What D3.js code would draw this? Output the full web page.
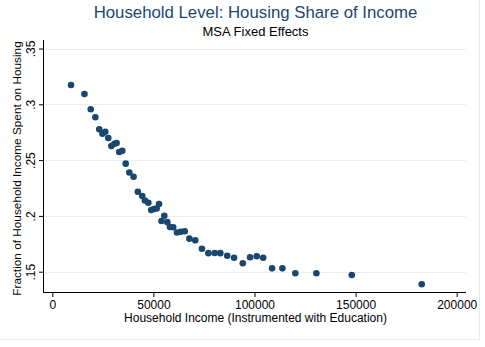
<!DOCTYPE html>
<html>
<head>
<meta charset="utf-8">
<script src="https://cdn.jsdelivr.net/npm/d3@7"></script>
<style>
  html, body { margin: 0; padding: 0; background: #fff; }
  svg { display: block; font-family: "Liberation Sans", Arial, sans-serif; }
</style>
</head>
<body>
<svg id="chart" width="485" height="347"></svg>
<script>
const titleText = "Household Level: Housing Share of Income";
const subtitleText = "MSA Fixed Effects";
const xTitle = "Household Income (Instrumented with Education)";
const yTitle = "Fraction of Household Income Spent on Housing";

const xTicks = [0, 50000, 100000, 150000, 200000];
const yTicks = [0.15, 0.2, 0.25, 0.3, 0.35];
const yTickLabels = [".15", ".2", ".25", ".3", ".35"];

const income = [
  9250, 15900, 19000, 21300, 23200, 24800, 26200, 27700, 29200, 30700,
  31800, 33100, 34600, 36300, 38100, 40200, 42300, 44500, 45800, 47500,
  48900, 50300, 51600, 52800, 54000, 55400, 56900, 58200, 59800, 61700,
  63500, 65500, 67800, 70700, 74000, 77200, 80300, 83100, 86500, 89900,
  94200, 97800, 101100, 104300, 108700, 113800, 120200, 130600, 148100, 182700
];
const housingShare = [
  0.3173, 0.3092, 0.2955, 0.2884, 0.2776, 0.2737, 0.2754, 0.2698, 0.2626, 0.2647,
  0.2653, 0.2573, 0.2584, 0.2468, 0.2389, 0.2351, 0.2216, 0.2178, 0.2138, 0.2118,
  0.2053, 0.2062, 0.2066, 0.2107, 0.1954, 0.2002, 0.1944, 0.1901, 0.1898, 0.1851,
  0.1857, 0.1863, 0.1796, 0.1781, 0.1706, 0.1666, 0.1668, 0.1666, 0.1643, 0.1625,
  0.1576, 0.1630, 0.1639, 0.1625, 0.1530, 0.1530, 0.1486, 0.1486, 0.1470, 0.1387
];

const svg = d3.select("#chart");
const navy = "#1a476f";

// outer frame
svg.append("rect").attr("x", -1).attr("y", -1).attr("width", 480.5).attr("height", 340.5)
  .attr("fill", "none").attr("stroke", "#e6ebed").attr("stroke-width", 1);

const plotLeft = 44, plotRight = 466, plotTop = 40, plotBottom = 292;

const x = d3.scaleLinear().domain([0, 200000]).range([52.3, 456.7]);
const y = d3.scaleLinear().domain([0.15, 0.35]).range([271.7, 48.5]);

// gridlines
svg.append("g").selectAll("line").data(yTicks).join("line")
  .attr("x1", plotLeft).attr("x2", plotRight)
  .attr("y1", d => Math.round(y(d)) + 0.5).attr("y2", d => Math.round(y(d)) + 0.5)
  .attr("stroke", "#e8eff1").attr("stroke-width", 1);

// axes
const xAxis = d3.axisBottom(x).tickValues(xTicks).tickSize(5).tickPadding(3)
  .tickFormat(d3.format("d"));
const gx = svg.append("g").attr("transform", `translate(0,${plotBottom})`).call(xAxis);
gx.select(".domain").remove();
gx.selectAll("line").attr("stroke", "#000");
gx.selectAll("text").attr("font-size", "12px").attr("fill", "#000")
  .attr("font-family", "Liberation Sans, Arial, sans-serif");
svg.append("line").attr("x1", plotLeft).attr("x2", plotRight)
  .attr("y1", plotBottom + 0.5).attr("y2", plotBottom + 0.5).attr("stroke", "#000");

const yAxis = d3.axisLeft(y).tickValues(yTicks).tickSize(5).tickFormat((d, i) => yTickLabels[i]);
const gy = svg.append("g").attr("transform", `translate(${plotLeft},0)`).call(yAxis);
gy.select(".domain").remove();
gy.selectAll("line").attr("stroke", "#000");
gy.selectAll("text")
  .attr("font-size", "12px").attr("fill", "#000")
  .attr("font-family", "Liberation Sans, Arial, sans-serif")
  .attr("text-anchor", "middle")
  .attr("dy", null)
  .attr("x", null)
  .attr("transform", "translate(-9,0) rotate(-90)");
svg.append("line").attr("x1", plotLeft - 0.5).attr("x2", plotLeft - 0.5)
  .attr("y1", plotTop).attr("y2", plotBottom + 1).attr("stroke", "#000");

// points
const data = income.map((v, i) => ({ x: v, y: housingShare[i] }));
svg.append("g").selectAll("circle").data(data).join("circle")
  .attr("cx", d => x(d.x)).attr("cy", d => y(d.y)).attr("r", 3.3)
  .attr("fill", navy);

// titles
svg.append("text").attr("x", 255.5).attr("y", 18).attr("text-anchor", "middle")
  .attr("font-size", "16.8px").attr("fill", navy).text(titleText);
svg.append("text").attr("x", 255.5).attr("y", 35.5).attr("text-anchor", "middle")
  .attr("font-size", "13px").attr("fill", "#000").text(subtitleText);
svg.append("text").attr("x", 255.5).attr("y", 321.5).attr("text-anchor", "middle")
  .attr("font-size", "12px").attr("fill", "#000").text(xTitle);
svg.append("text").attr("transform", "translate(21,168.5) rotate(-90)").attr("text-anchor", "middle")
  .attr("font-size", "11.8px").attr("fill", "#000").text(yTitle);
</script>
</body>
</html>
